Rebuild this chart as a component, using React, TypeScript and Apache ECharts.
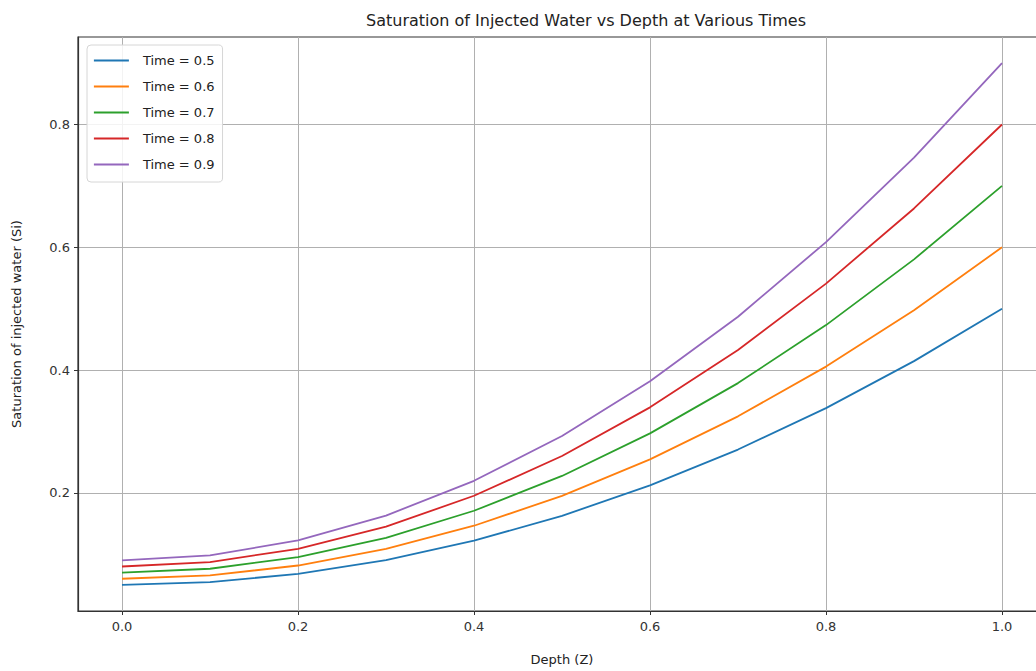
import React, { useEffect, useRef } from "react";
import * as echarts from "echarts";

const depths = [0.0, 0.1, 0.2, 0.3, 0.4, 0.5, 0.6, 0.7, 0.8, 0.9, 1.0];
const seriesNames = ["Time = 0.5", "Time = 0.6", "Time = 0.7", "Time = 0.8", "Time = 0.9"];
const t05 = [0.05, 0.0545, 0.068, 0.0905, 0.122, 0.1625, 0.212, 0.2705, 0.338, 0.4145, 0.5];
const t06 = [0.06, 0.0654, 0.0816, 0.1086, 0.1464, 0.195, 0.2544, 0.3246, 0.4056, 0.4974, 0.6];
const t07 = [0.07, 0.0763, 0.0952, 0.1267, 0.1708, 0.2275, 0.2968, 0.3787, 0.4732, 0.5803, 0.7];
const t08 = [0.08, 0.0872, 0.1088, 0.1448, 0.1952, 0.26, 0.3392, 0.4328, 0.5408, 0.6632, 0.8];
const t09 = [0.09, 0.0981, 0.1224, 0.1629, 0.2196, 0.2925, 0.3816, 0.4869, 0.6084, 0.7461, 0.9];
const seriesValues = [t05, t06, t07, t08, t09];
const colors = ["#1f77b4", "#ff7f0e", "#2ca02c", "#d62728", "#9467bd"];
const xTicks = [0.0, 0.2, 0.4, 0.6, 0.8, 1.0];
const yTicks = [0.2, 0.4, 0.6, 0.8];

const FONT = "DejaVu Sans";

export default function App() {
  const ref = useRef<HTMLDivElement>(null);
  useEffect(() => {
    if (!ref.current) return;
    const chart = echarts.init(ref.current, undefined, { renderer: "svg" });
    chart.setOption({
      animation: false,
      backgroundColor: "#ffffff",
      title: {
        text: "Saturation of Injected Water vs Depth at Various Times",
        left: 581,
        textAlign: "center",
        top: 7,
        textStyle: { fontFamily: FONT, fontSize: 16, fontWeight: "normal", color: "#222" },
      },
      legend: {
        orient: "vertical",
        left: 87,
        top: 45,
        padding: [8, 8, 10, 6],
        itemWidth: 35,
        itemHeight: 14,
        itemGap: 11,
        backgroundColor: "rgba(255,255,255,0.85)",
        borderColor: "#d6d6d6",
        borderWidth: 1,
        borderRadius: 4,
        itemStyle: { opacity: 0 },
        lineStyle: { width: 1.8 },
        textStyle: { fontFamily: FONT, fontSize: 13, color: "#222", padding: [0, 0, 0, 9], lineHeight: 15 },
        data: seriesNames,
      },
      grid: {
        left: 78,
        top: 37,
        width: 968,
        height: 577,
        show: true,
        borderColor: "#333",
        borderWidth: 1.2,
        backgroundColor: "transparent",
      },
      xAxis: {
        type: "value",
        min: -0.05,
        max: 1.05,
        name: "Depth (Z)",
        nameLocation: "middle",
        nameGap: 42,
        nameTextStyle: { fontFamily: FONT, fontSize: 13, color: "#222" },
        axisLine: { show: true, onZero: false, lineStyle: { color: "#333", width: 1.2 } },
        axisTick: { show: true, length: 4, lineStyle: { color: "#333" }, customValues: xTicks },
        axisLabel: {
          fontFamily: FONT,
          fontSize: 13,
          color: "#333",
          margin: 9,
          customValues: xTicks,
          formatter: (v: number) => v.toFixed(1),
        },
        splitLine: { show: true, lineStyle: { color: "#b0b0b0", width: 1 } },
      },
      yAxis: {
        type: "value",
        min: 0.0075,
        max: 0.9425,
        name: "Saturation of injected water (Si)",
        nameLocation: "middle",
        nameGap: 55,
        nameTextStyle: { fontFamily: FONT, fontSize: 13, color: "#222" },
        axisLine: { show: true, onZero: false, lineStyle: { color: "#333", width: 1.2 } },
        axisTick: { show: true, length: 4, lineStyle: { color: "#333" }, customValues: yTicks },
        axisLabel: {
          fontFamily: FONT,
          fontSize: 13,
          color: "#333",
          margin: 8,
          customValues: yTicks,
          formatter: (v: number) => v.toFixed(1),
        },
        splitLine: { show: true, lineStyle: { color: "#b0b0b0", width: 1 } },
      },
      series: seriesNames.map((name, i) => ({
        name,
        type: "line",
        symbol: "none",
        color: colors[i],
        lineStyle: { width: 1.8, color: colors[i] },
        data: depths.map((d, j) => [d, seriesValues[i][j]]),
      })),
    });
    return () => chart.dispose();
  }, []);
  return (
    <div style={{ position: "fixed", left: 0, top: 0, width: 1036, height: 671, overflow: "hidden", background: "#fff" }}>
      <div ref={ref} style={{ width: 1100, height: 671 }} />
    </div>
  );
}
